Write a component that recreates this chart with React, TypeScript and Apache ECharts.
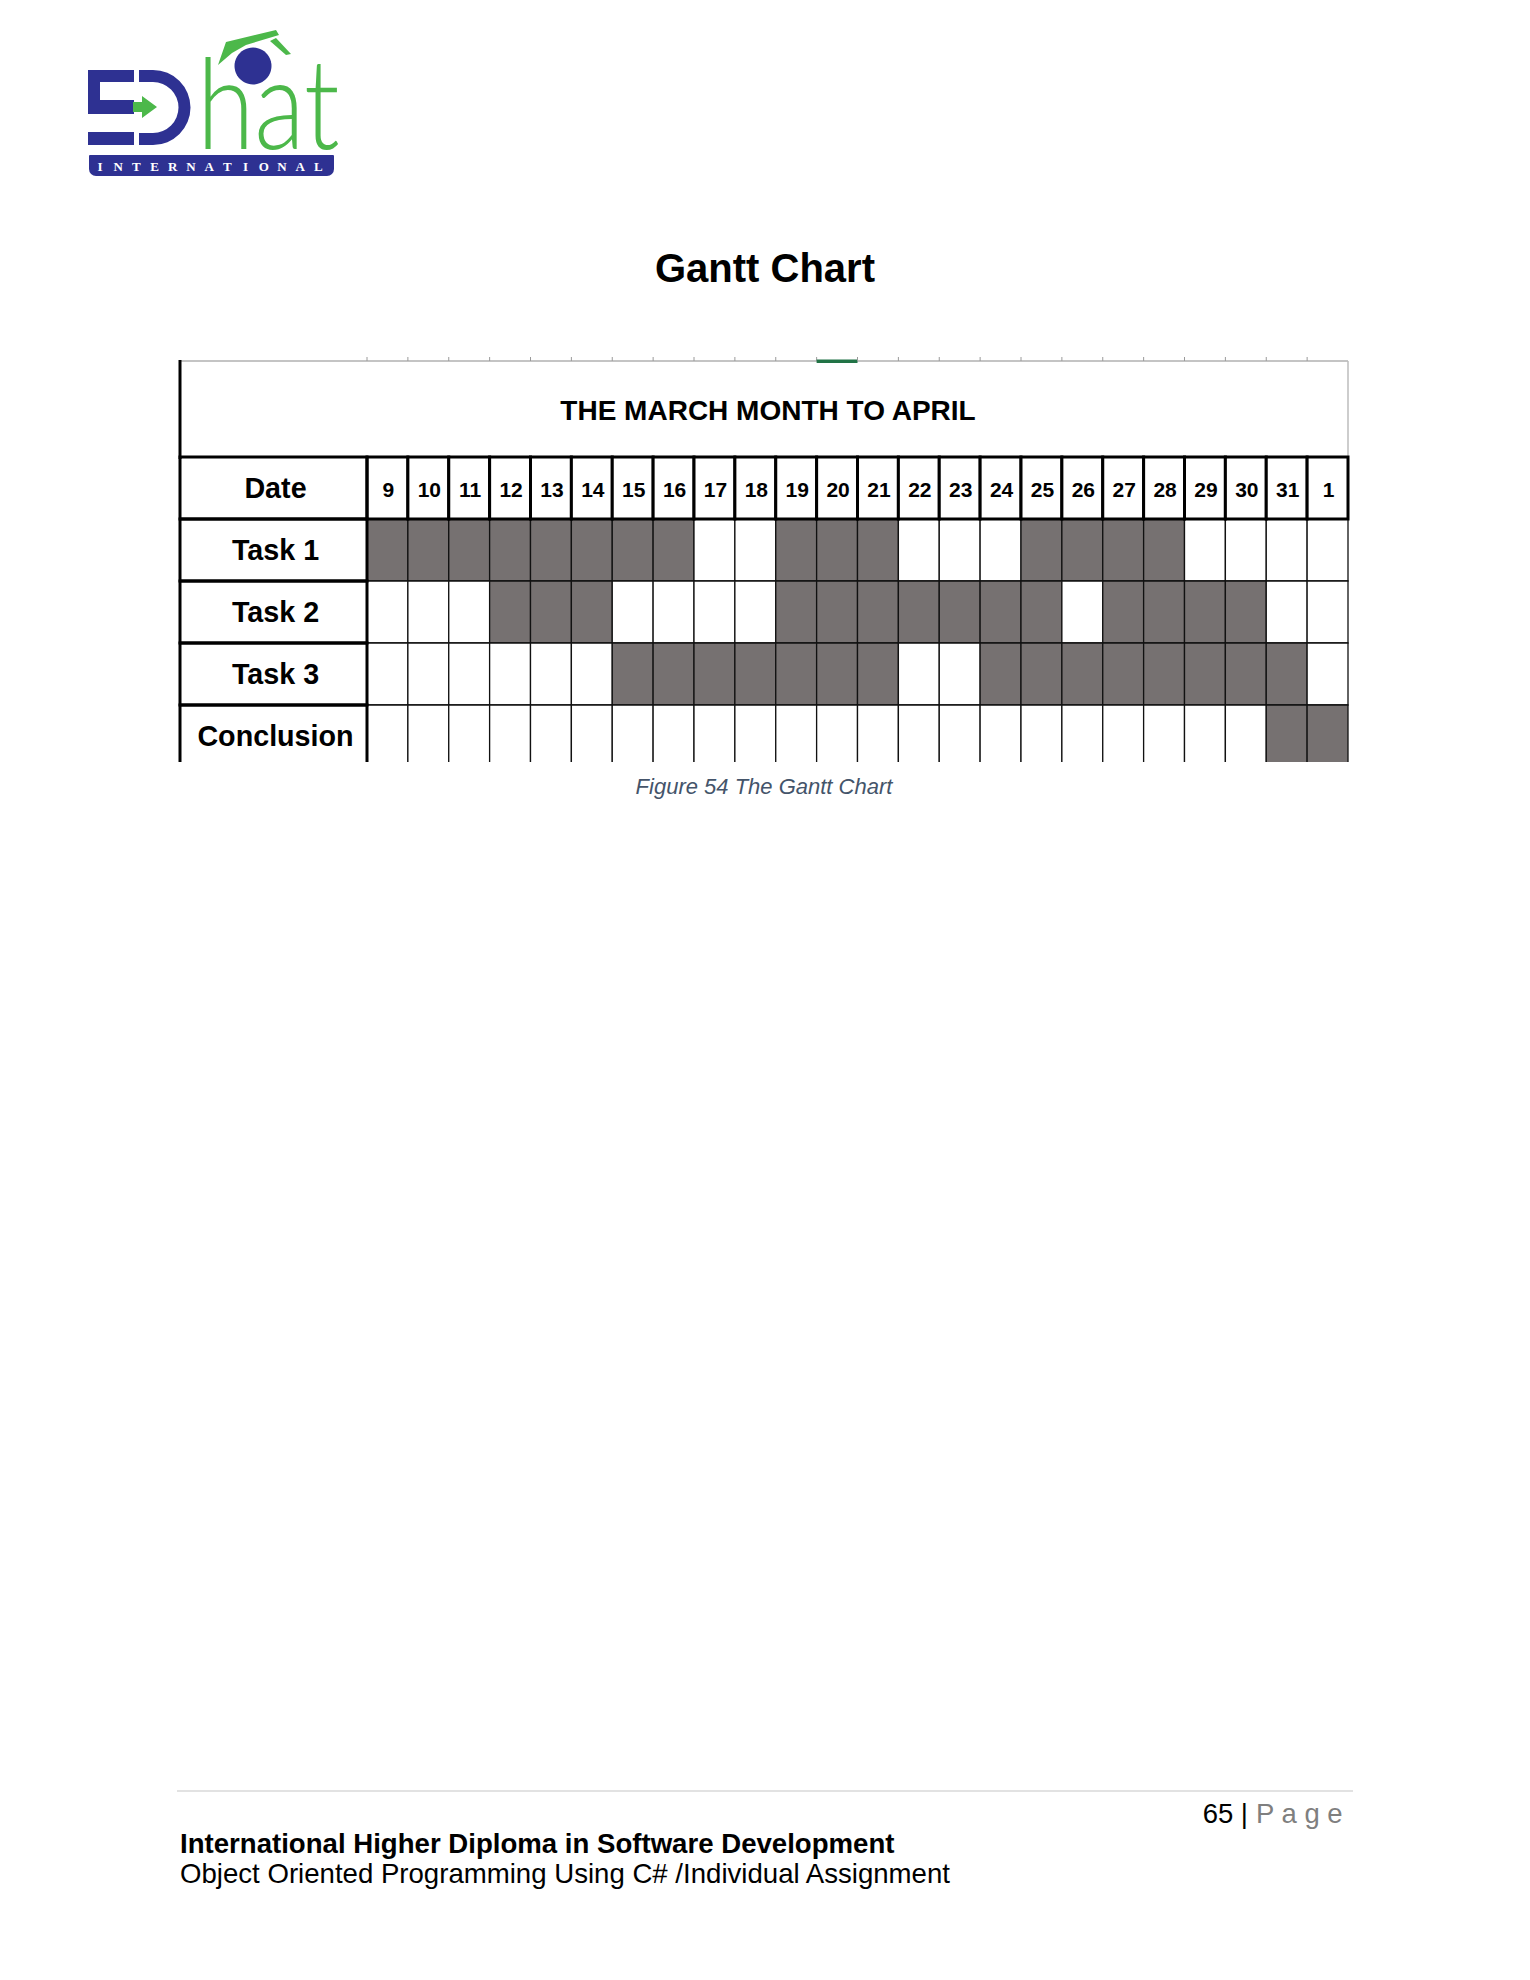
import React, { useEffect, useRef } from "react";
import * as echarts from "echarts";

// ---------- data ----------
const days = ["9", "10", "11", "12", "13", "14", "15", "16", "17", "18", "19", "20", "21", "22", "23", "24", "25", "26", "27", "28", "29", "30", "31", "1"];
const rowLabels = ["Date", "Task 1", "Task 2", "Task 3", "Conclusion"];
const task1 = [1, 1, 1, 1, 1, 1, 1, 1, 0, 0, 1, 1, 1, 0, 0, 0, 1, 1, 1, 1, 0, 0, 0, 0];
const task2 = [0, 0, 0, 1, 1, 1, 0, 0, 0, 0, 1, 1, 1, 1, 1, 1, 1, 0, 1, 1, 1, 1, 0, 0];
const task3 = [0, 0, 0, 0, 0, 0, 1, 1, 1, 1, 1, 1, 1, 0, 0, 1, 1, 1, 1, 1, 1, 1, 1, 0];
const conclusion = [0, 0, 0, 0, 0, 0, 0, 0, 0, 0, 0, 0, 0, 0, 0, 0, 0, 0, 0, 0, 0, 0, 1, 1];
const selectedDay = "20";

const headerTitle = "THE MARCH MONTH TO APRIL";
const pageTitle = "Gantt Chart";
const captionText = "Figure 54 The Gantt Chart";
const footerLine1 = "International Higher Diploma in Software Development";
const footerLine2 = "Object Oriented Programming Using C# /Individual Assignment";
const pageNumber = "65 |";
const pageWord = "P a g e";
const logoWord = "hat";
const logoLetters = ["I", "N", "T", "E", "R", "N", "A", "T", "I", "O", "N", "A", "L"];

// ---------- styles / layout ----------
const FONT = "'Liberation Sans', Arial, Helvetica, sans-serif";
const FILL = "#767171";
const BLUE = "#2E3192";
const GREEN = "#4CB84A";
const GRID_LEFT = 367;
const GRID_TOP = 457;
const GRID_W = 981;
const GRID_H = 310;
const LABEL_W = 187;
const HEADER_H = 96;
const TABLE_LEFT = GRID_LEFT - LABEL_W;
const TABLE_RIGHT = GRID_LEFT + GRID_W;

function txt(text: string, x: number, y: number, font: string, fill: string, align = "center", extra: any = {}) {
  return {
    type: "text",
    z: 110,
    style: {
      text,
      x,
      y,
      font,
      fill,
      align,
      textAlign: align,
      verticalAlign: "middle",
      textVerticalAlign: "middle",
    },
    ...extra,
  };
}

export default function App() {
  const ref = useRef<HTMLDivElement>(null);

  useEffect(() => {
    document.body.style.margin = "0";
    const chart = echarts.init(ref.current as HTMLDivElement, null, { renderer: "svg" });

    const tasks = [task1, task2, task3, conclusion];
    const cellData: number[][] = [];
    tasks.forEach((arr, r) => arr.forEach((v, i) => cellData.push([i, r + 1, v])));
    const dateData = days.map((_, i) => [i, 0]);
    const labelData = rowLabels.map((_, r) => [0, r]);

    const graphic: any[] = [
      // header frame
      { type: "line", z: 1, shape: { x1: TABLE_LEFT, y1: 361, x2: TABLE_RIGHT, y2: 361 }, style: { stroke: "#C4C4C4", lineWidth: 2 } },
      { type: "line", z: 1, shape: { x1: TABLE_RIGHT, y1: 361, x2: TABLE_RIGHT, y2: GRID_TOP }, style: { stroke: "#BDBDBD", lineWidth: 1.5 } },
      { type: "line", z: 5, shape: { x1: TABLE_LEFT, y1: 360, x2: TABLE_LEFT, y2: GRID_TOP + 2 }, style: { stroke: "#000", lineWidth: 3 } },
      txt(headerTitle, (TABLE_LEFT + TABLE_RIGHT) / 2 + 4, 410, `bold 28px ${FONT}`, "#000"),
      // page title
      txt(pageTitle, 765, 268, `bold 40px ${FONT}`, "#000"),
      // bottom cut of the picture
      { type: "rect", z: 100, shape: { x: 150, y: 762, width: 1250, height: 40 }, style: { fill: "#fff" } },
      txt(captionText, 764, 786, `italic 22px ${FONT}`, "#44546A"),
      // footer
      { type: "line", z: 5, shape: { x1: 177, y1: 1791, x2: 1353, y2: 1791 }, style: { stroke: "#D9D9D9", lineWidth: 1.5 } },
      txt(pageNumber, 1248, 1813, `27.5px ${FONT}`, "#000", "right"),
      txt(pageWord, 1256, 1813, `27.5px ${FONT}`, "#7F7F7F", "left"),
      txt(footerLine1, 180, 1843, `bold 27.6px ${FONT}`, "#000", "left"),
      txt(footerLine2, 180, 1873, `27.6px ${FONT}`, "#000", "left"),
      // ---- logo ----
      { type: "rect", z: 5, shape: { x: 88, y: 70, width: 46, height: 12 }, style: { fill: BLUE } },
      { type: "rect", z: 5, shape: { x: 88, y: 70, width: 12, height: 44 }, style: { fill: BLUE } },
      { type: "rect", z: 5, shape: { x: 88, y: 100, width: 46, height: 14 }, style: { fill: BLUE } },
      { type: "rect", z: 5, shape: { x: 88, y: 132, width: 46, height: 13 }, style: { fill: BLUE } },
      { type: "rect", z: 5, shape: { x: 139, y: 70, width: 14, height: 12 }, style: { fill: BLUE } },
      { type: "rect", z: 5, shape: { x: 139, y: 133, width: 14, height: 12 }, style: { fill: BLUE } },
      { type: "sector", z: 5, shape: { cx: 153, cy: 107.5, r0: 25.5, r: 37.5, startAngle: -Math.PI / 2, endAngle: Math.PI / 2, clockwise: true }, style: { fill: BLUE } },
      { type: "polygon", z: 6, shape: { points: [[133, 102], [142, 102], [142, 96], [157, 107], [142, 118], [142, 112], [133, 112]] }, style: { fill: GREEN } },
      { type: "circle", z: 5, shape: { cx: 253, cy: 66, r: 18.5 }, style: { fill: BLUE } },
      { type: "polygon", z: 6, shape: { points: [[218, 65], [226, 42], [276, 30], [279, 35], [246, 45], [232, 53]] }, style: { fill: GREEN } },
      { type: "polygon", z: 6, shape: { points: [[270, 41], [276, 38], [291, 54], [286, 55]] }, style: { fill: GREEN } },
      {
        type: "text", z: 6, x: 197, y: 100, scaleX: 0.82,
        style: { text: logoWord, x: 0, y: 0, font: `300 127px Lato, 'Open Sans', sans-serif`, fill: GREEN, align: "left", textAlign: "left", verticalAlign: "middle", textVerticalAlign: "middle" },
      },
      { type: "rect", z: 5, shape: { x: 89, y: 155, width: 245, height: 21, r: [1, 1, 7, 7] }, style: { fill: BLUE } },
      ...logoLetters.map((l, i) => txt(l, 100 + i * 18.2, 166, `bold 13px 'Liberation Serif', serif`, "#fff")),
    ];

    const option: any = {
      animation: false,
      backgroundColor: "#ffffff",
      grid: { left: GRID_LEFT, top: GRID_TOP, width: GRID_W, height: GRID_H, containLabel: false },
      xAxis: {
        type: "category",
        data: days,
        show: false,
      },
      yAxis: {
        type: "category",
        data: rowLabels,
        inverse: true,
        axisLine: { show: false },
        axisTick: { show: false },
        splitLine: { show: false },
        axisLabel: {
          interval: 0,
          align: "center",
          margin: LABEL_W / 2 - 2,
          fontSize: 28.7,
          fontWeight: "bold",
          color: "#000",
          fontFamily: FONT,
        },
      },
      graphic,
      series: [
        {
          type: "custom",
          name: "cells",
          z: 2,
          data: cellData,
          renderItem: (params: any, api: any) => {
            const c = api.coord([api.value(0), api.value(1)]);
            const s = api.size([1, 1]);
            return {
              type: "rect",
              shape: { x: c[0] - s[0] / 2, y: c[1] - s[1] / 2, width: s[0], height: s[1] },
              style: { fill: api.value(2) ? FILL : "#ffffff", stroke: "#111", lineWidth: 1.3 },
            };
          },
        },
        {
          type: "custom",
          name: "dates",
          z: 3,
          clip: false,
          data: dateData,
          renderItem: (params: any, api: any) => {
            const idx = params.dataIndex;
            const c = api.coord([api.value(0), api.value(1)]);
            const s = api.size([1, 1]);
            const x0 = c[0] - s[0] / 2;
            const y0 = c[1] - s[1] / 2;
            const topY = y0 - HEADER_H;
            const children: any[] = [
              {
                type: "rect",
                shape: { x: x0, y: y0, width: s[0], height: s[1] },
                style: { fill: "#ffffff", stroke: "#000", lineWidth: 3 },
              },
              {
                type: "text",
                style: {
                  text: days[idx], x: c[0] + 1, y: c[1] + 1, font: `bold 21px ${FONT}`, fill: "#000",
                  align: "center", textAlign: "center", verticalAlign: "middle", textVerticalAlign: "middle",
                },
              },
              {
                type: "line",
                shape: { x1: x0, y1: topY - 4, x2: x0, y2: topY },
                style: { stroke: "#9A9A9A", lineWidth: 1 },
              },
            ];
            if (days[idx] === selectedDay) {
              children.push({
                type: "rect",
                shape: { x: x0, y: topY - 1.5, width: s[0], height: 3.5 },
                style: { fill: "#217346" },
              });
            }
            return { type: "group", children };
          },
        },
        {
          type: "custom",
          name: "labels",
          z: 4,
          clip: false,
          data: labelData,
          renderItem: (params: any, api: any) => {
            const c = api.coord([api.value(0), api.value(1)]);
            const s = api.size([1, 1]);
            return {
              type: "rect",
              shape: { x: c[0] - s[0] / 2 - LABEL_W, y: c[1] - s[1] / 2, width: LABEL_W, height: s[1] },
              style: { fill: "transparent", stroke: "#000", lineWidth: 3 },
            };
          },
        },
      ],
    };

    chart.setOption(option);
    return () => chart.dispose();
  }, []);

  return <div ref={ref} style={{ width: 1530, height: 1980, background: "#fff" }} />;
}
